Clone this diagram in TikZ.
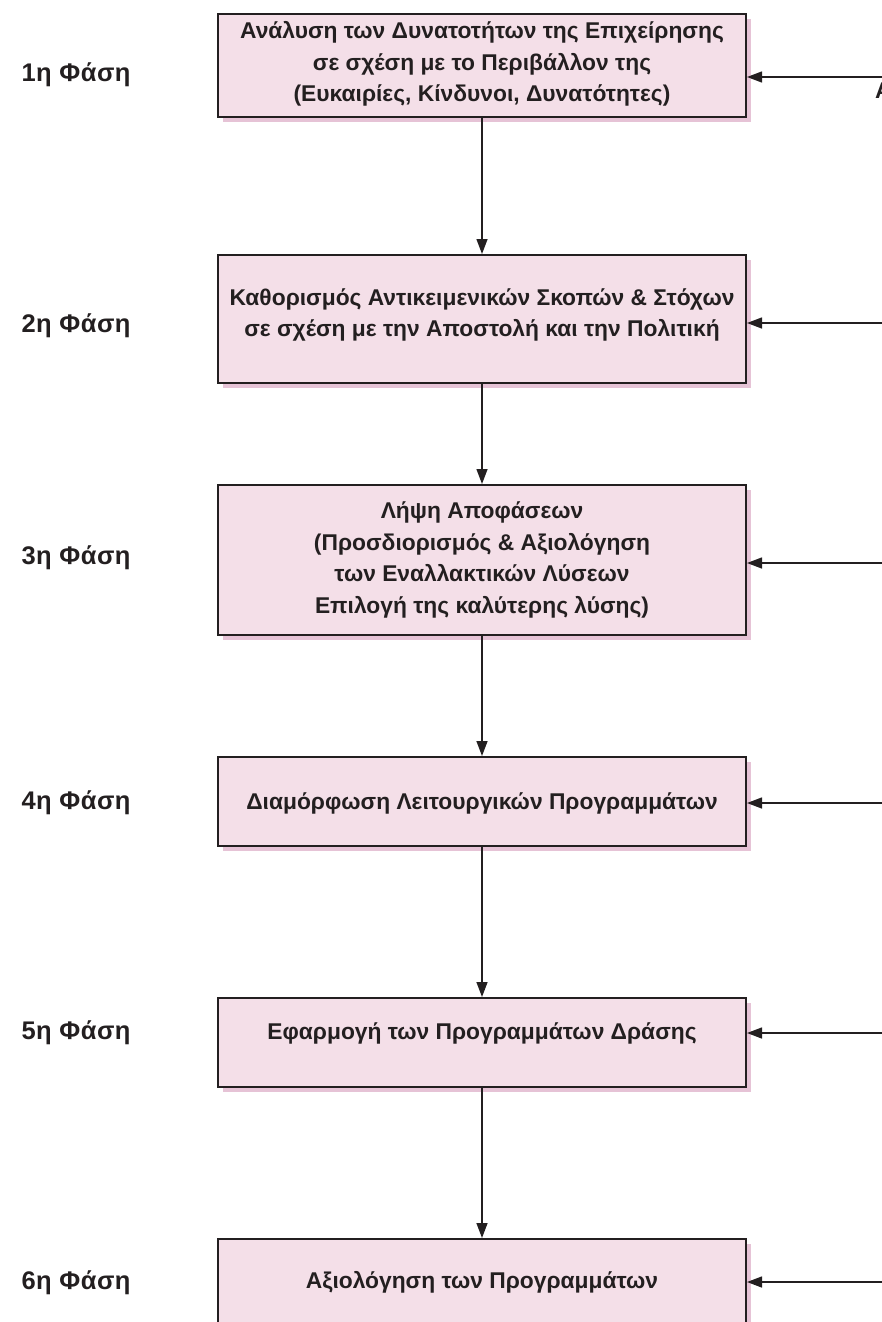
\documentclass[tikz,border=0pt]{standalone}
\usepackage{fontspec}
\setmainfont{Liberation Sans}
\usetikzlibrary{arrows.meta,shadows}
\definecolor{boxfill}{HTML}{F4DFE8}
\definecolor{shadowpink}{HTML}{E6C3D6}
\definecolor{ink}{HTML}{231F20}
\tikzset{
  stagebox/.style={draw=ink, line width=2pt, fill=boxfill, minimum width=528pt,
    drop shadow={shadow xshift=5pt, shadow yshift=-5pt, fill=shadowpink, opacity=1}},
  stagetext/.style={align=center, text=ink, font=\fontsize{22.8}{31.8}\selectfont\bfseries},
  phase/.style={anchor=west, text=ink, font=\fontsize{25.5}{28}\selectfont\bfseries\addfontfeature{LetterSpace=2}},
  arr/.style={draw=ink, line width=1.4pt, -{Triangle[length=15pt,width=11pt]}}
}
\begin{document}
\begin{tikzpicture}[x=1pt,y=-1pt]
\useasboundingbox (0,0) rectangle (882,1322);
% boxes
\node[stagebox, minimum height=103pt] (b1) at (482,65.5) {};
\node[stagebox, minimum height=128pt] (b2) at (482,319) {};
\node[stagebox, minimum height=150pt] (b3) at (482,560) {};
\node[stagebox, minimum height=89pt] (b4) at (482,801.5) {};
\node[stagebox, minimum height=89pt] (b5) at (482,1042.5) {};
\node[stagebox, minimum height=100pt] (b6) at (482,1289) {};
% texts
\node[stagetext] (t1) at (482,64) {Ανάλυση των Δυνατοτήτων της Επιχείρησης\\σε σχέση με το Περιβάλλον της\\(Ευκαιρίες, Κίνδυνοι, Δυνατότητες)};
\node[stagetext] (t2) at (482,315) {Καθορισμός Αντικειμενικών Σκοπών \& Στόχων\\σε σχέση με την Αποστολή και την Πολιτική};
\node[stagetext] (t3) at (482,560) {Λήψη Αποφάσεων\\(Προσδιορισμός \& Αξιολόγηση\\των Εναλλακτικών Λύσεων\\Επιλογή της καλύτερης λύσης)};
\node[stagetext] (t4) at (482,803) {Διαμόρφωση Λειτουργικών Προγραμμάτων};
\node[stagetext] (t5) at (482,1033) {Εφαρμογή των Προγραμμάτων Δράσης};
\node[stagetext] (t6) at (482,1282) {Αξιολόγηση των Προγραμμάτων};
% phases
\node[phase] (p1) at (18,75) {1η Φάση};
\node[phase] (p2) at (18,326) {2η Φάση};
\node[phase] (p3) at (18,558) {3η Φάση};
\node[phase] (p4) at (18,803) {4η Φάση};
\node[phase] (p5) at (18,1033) {5η Φάση};
\node[phase] (p6) at (18,1283) {6η Φάση};
% vertical arrows
\draw[arr] (b1) -- (b2);
\draw[arr] (b2) -- (b3);
\draw[arr] (b3) -- (b4);
\draw[arr] (b4) -- (b5);
\draw[arr] (b5) -- (b6);
% right arrows
\coordinate (r1) at (884,77);
\coordinate (r2) at (884,323);
\coordinate (r3) at (884,563);
\coordinate (r4) at (884,803);
\coordinate (r5) at (884,1033);
\coordinate (r6) at (884,1282);
\draw[arr] (r1) -- (r1 -| b1.east);
\draw[arr] (r2) -- (r2 -| b2.east);
\draw[arr] (r3) -- (r3 -| b3.east);
\draw[arr] (r4) -- (r4 -| b4.east);
\draw[arr] (r5) -- (r5 -| b5.east);
\draw[arr] (r6) -- (r6 -| b6.east);
% cut-off label at the right edge
\node[anchor=west, inner sep=0pt, text=ink, font=\fontsize{22.8}{28}\selectfont\bfseries] (cut) at (875,91) {Α};
\end{tikzpicture}
\end{document}
